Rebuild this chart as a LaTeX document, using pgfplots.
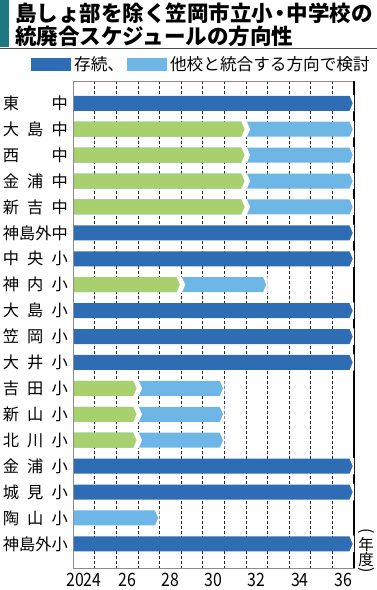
\documentclass[border=0pt]{standalone}
\usepackage{pgfplots}
\pgfplotsset{compat=1.18}
\usepackage{pgfplotstable}
\usepackage{graphicx}
\usepackage{fontspec}
\setmainfont{Noto Sans CJK JP}

\definecolor{darkb}{RGB}{46,109,180}
\definecolor{lightb}{RGB}{109,182,230}
\definecolor{greenb}{RGB}{169,208,111}
\definecolor{tealbar}{RGB}{30,120,128}

\pgfdeclareplotmark{endcut}{%
  \pgfsetfillcolor{white}%
  \pgfpathmoveto{\pgfqpoint{-4.7bp}{8.2bp}}%
  \pgfpathlineto{\pgfqpoint{0bp}{8.2bp}}%
  \pgfpathlineto{\pgfqpoint{0bp}{-8.2bp}}%
  \pgfpathlineto{\pgfqpoint{-4.7bp}{-8.2bp}}%
  \pgfpathlineto{\pgfqpoint{-1.2bp}{0bp}}%
  \pgfpathclose
  \pgfusepathqfill
}
\pgfdeclareplotmark{joint}{%
  \pgfsetfillcolor{white}%
  \pgfpathmoveto{\pgfqpoint{-4.7bp}{8.2bp}}%
  \pgfpathlineto{\pgfqpoint{0bp}{8.2bp}}%
  \pgfpathlineto{\pgfqpoint{0bp}{-8.2bp}}%
  \pgfpathlineto{\pgfqpoint{-4.7bp}{-8.2bp}}%
  \pgfpathlineto{\pgfqpoint{-1.2bp}{0bp}}%
  \pgfpathclose
  \pgfusepathqfill
  \pgfpathmoveto{\pgfqpoint{-0.2bp}{8.2bp}}%
  \pgfpathlineto{\pgfqpoint{0.6bp}{8.2bp}}%
  \pgfpathlineto{\pgfqpoint{4.2bp}{0bp}}%
  \pgfpathlineto{\pgfqpoint{0.6bp}{-8.2bp}}%
  \pgfpathlineto{\pgfqpoint{-0.2bp}{-8.2bp}}%
  \pgfpathclose
  \pgfusepathqfill
}

% row: 0 = top. Values in years from start of FY2024 (0 = start of 2024, 13 = end of 2036)
\pgfplotstableread{
row green light dark
0  nan nan 13
1  8   13  nan
2  8   13  nan
3  8   13  nan
4  8   13  nan
5  nan nan 13
6  nan nan 13
7  5   9   nan
8  nan nan 13
9  nan nan 13
10 nan nan 13
11 3   7   nan
12 3   7   nan
13 3   7   nan
14 nan nan 13
15 nan nan 13
16 nan 4   nan
17 nan nan 13
}\schedule

\newcommand{\lab}[1]{\makebox[65bp][s]{#1}}
\newcommand{\yr}[1]{\scalebox{0.86}[1]{#1}}

\begin{document}
\begin{tikzpicture}
\useasboundingbox (0,0) rectangle (377bp,590bp);
% title
\fill[tealbar] (0,543bp) rectangle (9bp,590bp);
\draw[black!70, line width=1.2bp] (0,541.5bp) -- (377bp,541.5bp);
\node[anchor=west, inner sep=0pt, font=\bfseries\fontsize{21.6}{21.6}\selectfont] at (15bp,576.5bp) {島しょ部を除く笠岡市立小\makebox[0.62em]{・}中学校の};
\node[anchor=west, inner sep=0pt, font=\bfseries\fontsize{21.6}{21.6}\selectfont] at (15bp,554bp) {統廃合スケジュールの方向性};

\begin{axis}[
  at={(73bp,22bp)}, anchor=south west,
  width=281bp, height=487bp, scale only axis,
  xmin=0, xmax=13, ymin=-0.86, ymax=17.93, y dir=reverse,
  clip=false,
  axis line style={draw=none},
  xtick={0.5,2.5,4.5,6.5,8.5,10.5,12.5},
  xticklabels={\yr{2024},\yr{26},\yr{28},\yr{30},\yr{32},\yr{34},\yr{36}},
  minor xtick={1,2,3,4,5,6,7,8,9,10,11,12},
  xminorgrids=true,
  minor grid style={black!85, line width=0.55bp, dash pattern=on 3bp off 2bp},
  ytick={0,...,17},
  yticklabels={
    {\lab{東\hfill 中}},
    {\lab{大\hfill 島\hfill 中}},
    {\lab{西\hfill 中}},
    {\lab{金\hfill 浦\hfill 中}},
    {\lab{新\hfill 吉\hfill 中}},
    {\lab{神\hfil 島\hfil 外\hfil 中}},
    {\lab{中\hfill 央\hfill 小}},
    {\lab{神\hfill 内\hfill 小}},
    {\lab{大\hfill 島\hfill 小}},
    {\lab{笠\hfill 岡\hfill 小}},
    {\lab{大\hfill 井\hfill 小}},
    {\lab{吉\hfill 田\hfill 小}},
    {\lab{新\hfill 山\hfill 小}},
    {\lab{北\hfill 川\hfill 小}},
    {\lab{金\hfill 浦\hfill 小}},
    {\lab{城\hfill 見\hfill 小}},
    {\lab{陶\hfill 山\hfill 小}},
    {\lab{神\hfil 島\hfil 外\hfil 小}}},
  major tick length=0pt, minor tick length=0pt,
  tick style={draw=none},
  xticklabel style={font=\fontsize{18.5}{18.5}\selectfont, inner sep=0pt, anchor=north, yshift=-5bp},
  yticklabel style={font=\fontsize{16.3}{16.3}\selectfont, inner sep=0pt, anchor=east, xshift=-5bp},
  legend image code/.code={\fill[#1] (0bp,-6.3bp) rectangle (40bp,6.3bp);},
  legend columns=2,
  legend style={draw=none, fill=none, inner sep=0pt, column sep=3bp,
    nodes={inner sep=0pt, anchor=west},
    font=\fontsize{16.7}{17}\selectfont,
    at={(axis description cs:-0.1495,1.0339)}, anchor=west},
]
\addlegendimage{fill=darkb, draw=none}
\addlegendentry{存続、}
\addlegendimage{fill=lightb, draw=none}
\addlegendentry{他校と統合する方向で検討}

\addplot[xbar, bar width=15bp, bar shift=0pt, fill=lightb, draw=none, forget plot] table[x=light, y=row] {\schedule};
\addplot[xbar, bar width=15bp, bar shift=0pt, fill=greenb, draw=none, forget plot] table[x=green, y=row] {\schedule};
\addplot[xbar, bar width=15bp, bar shift=0pt, fill=darkb, draw=none, forget plot] table[x=dark, y=row] {\schedule};

\addplot[only marks, mark=endcut, forget plot] table[x=light, y=row] {\schedule};
\addplot[only marks, mark=endcut, forget plot] table[x=dark, y=row] {\schedule};
\addplot[only marks, mark=joint, forget plot] table[x=green, y=row] {\schedule};

\draw[black!45, line width=1bp] (rel axis cs:0,0) rectangle (rel axis cs:1,1);
\draw[black, line width=1.1bp] (rel axis cs:1,0) -- (rel axis cs:1,1);
\end{axis}

% (年度)
\node[rotate=-90, inner sep=0pt, font=\fontsize{16}{16}\selectfont] at (366bp,59bp) {(};
\node[inner sep=0pt, font=\fontsize{15.5}{16}\selectfont] at (366bp,45bp) {年};
\node[inner sep=0pt, font=\fontsize{15.5}{16}\selectfont] at (366bp,30bp) {度};
\node[rotate=-90, inner sep=0pt, font=\fontsize{16}{16}\selectfont] at (366bp,20bp) {)};
\end{tikzpicture}
\end{document}
